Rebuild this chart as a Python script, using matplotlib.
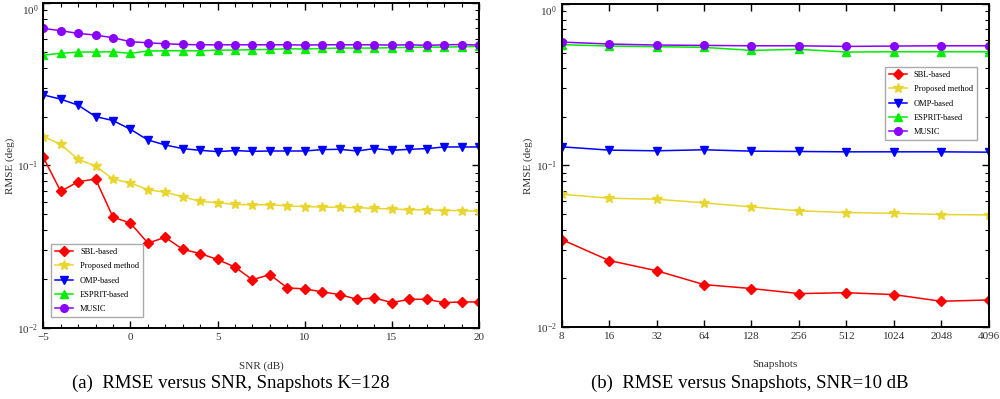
import numpy as np
import matplotlib
matplotlib.use("Agg")
import matplotlib.pyplot as plt
from matplotlib.ticker import LogLocator, MultipleLocator, NullFormatter

plt.rcParams['font.family'] = ['Liberation Serif', 'DejaVu Serif']
plt.rcParams['mathtext.fontset'] = 'stix'

# method names (legend)
methods = ['SBL-based', 'Proposed method', 'OMP-based', 'ESPRIT-based', 'MUSIC']
colors = ['#ff0000', '#e8d530', '#0000ff', '#00ee00', '#8a00ff']
markers = ['D', '*', 'v', '^', 'o']
msizes = [5, 7.5, 5.5, 5.5, 5.5]

# (a) RMSE versus SNR, K=128
snr = list(range(-5, 21))
a_red = [0.1123, 0.0693, 0.0795, 0.0825, 0.0481, 0.0442, 0.0333, 0.0361, 0.0305, 0.0287,
         0.0264, 0.0237, 0.0198, 0.0213, 0.01765, 0.0174, 0.01667, 0.01606, 0.01502, 0.0153,
         0.01433, 0.01502, 0.01502, 0.01433, 0.01446, 0.01446]
a_yellow = [0.1507, 0.135, 0.109, 0.0993, 0.0826, 0.0780, 0.0710, 0.0684, 0.0643, 0.0601,
            0.0590, 0.0576, 0.0573, 0.0573, 0.0564, 0.0559, 0.0555, 0.0552, 0.0550, 0.0544,
            0.0540, 0.0534, 0.0534, 0.0528, 0.0528, 0.0522]
a_blue = [0.272, 0.256, 0.235, 0.200, 0.189, 0.167, 0.1436, 0.1337, 0.127, 0.124,
          0.1217, 0.1235, 0.1222, 0.1228, 0.1228, 0.1228, 0.1252, 0.1258, 0.1228, 0.127,
          0.124, 0.1258, 0.127, 0.130, 0.130, 0.130]
a_green = [0.478, 0.490, 0.499, 0.499, 0.501, 0.490, 0.506, 0.508, 0.508, 0.508,
           0.513, 0.513, 0.516, 0.518, 0.523, 0.521, 0.525, 0.528, 0.528, 0.528,
           0.531, 0.533, 0.535, 0.535, 0.538, 0.541]
a_purple = [0.698, 0.675, 0.650, 0.635, 0.611, 0.578, 0.569, 0.561, 0.556, 0.553,
            0.553, 0.553, 0.553, 0.553, 0.553, 0.551, 0.553, 0.553, 0.553, 0.553,
            0.551, 0.553, 0.549, 0.553, 0.555, 0.551]

# (b) RMSE versus Snapshots, SNR=10 dB
snapshots = ['8', '16', '32', '64', '128', '256', '512', '1024', '2048', '4096']
b_red = [0.0348, 0.0258, 0.0223, 0.0183, 0.0173, 0.0161, 0.0163, 0.01587, 0.01443, 0.01470]
b_yellow = [0.0664, 0.0627, 0.0618, 0.0587, 0.0554, 0.0524, 0.0511, 0.0506, 0.0497, 0.0494]
b_blue = [0.1305, 0.1245, 0.1233, 0.1251, 0.1227, 0.1221, 0.1215, 0.1215, 0.1215, 0.1209]
b_green = [0.560, 0.549, 0.544, 0.539, 0.516, 0.524, 0.504, 0.506, 0.506, 0.506]
b_purple = [0.581, 0.565, 0.557, 0.554, 0.551, 0.551, 0.546, 0.549, 0.551, 0.551]

fig = plt.figure(figsize=(10, 3.99), dpi=100)
ax1 = fig.add_axes([0.0433, 0.178, 0.4357, 0.8145])
ax2 = fig.add_axes([0.5617, 0.1805, 0.427, 0.8095])


def draw(ax, x, series):
    for y, c, m, ms, name in zip(series, colors, markers, msizes, methods):
        ax.plot(x, y, color=c, marker=m, markersize=ms, linewidth=1.1,
                markeredgecolor=c, label=name)
    ax.set_yscale('log')
    ax.set_ylim(1e-2, 1e0)
    ax.yaxis.set_major_locator(LogLocator(base=10, numticks=5))
    ax.yaxis.set_minor_locator(LogLocator(base=10, subs=np.arange(2, 10), numticks=10))
    ax.yaxis.set_minor_formatter(NullFormatter())
    ax.tick_params(which='both', direction='in', top=True, right=True,
                   labelsize=8, labelcolor='#333333')
    ax.tick_params(which='major', length=5, width=1)
    ax.tick_params(which='minor', length=3, width=0.8)
    for s in ax.spines.values():
        s.set_linewidth(1.4)
    ax.set_ylabel('RMSE (deg)', fontsize=8, color='#333333', labelpad=2)


def fix_top_label(ax):
    fig.canvas.draw()
    labels = ax.get_yticklabels()
    for t in labels:
        if t.get_position()[1] >= 0.99:
            t.set_verticalalignment('top')


draw(ax1, snr, [a_red, a_yellow, a_blue, a_green, a_purple])
ax1.set_xlim(-5, 20)
ax1.xaxis.set_major_locator(MultipleLocator(5))
ax1.xaxis.set_minor_locator(MultipleLocator(1))
ax1.set_xlabel('SNR (dB)', fontsize=8, color='#333333', labelpad=14)
ax1.legend(loc='lower left', bbox_to_anchor=(0.008, 0.02), fontsize=6,
           fancybox=False, edgecolor='#aaaaaa', framealpha=1,
           handlelength=2.2, borderpad=0.5, labelspacing=0.75)

xb = np.arange(len(snapshots))
draw(ax2, xb, [b_red, b_yellow, b_blue, b_green, b_purple])
ax2.set_xlim(0, len(snapshots) - 1)
ax2.set_xticks(xb)
ax2.set_xticklabels(snapshots)
ax2.set_xlabel('Snapshots', fontsize=8, color='#333333', labelpad=14)
ax2.legend(loc='upper right', bbox_to_anchor=(0.983, 0.818), fontsize=6,
           fancybox=False, edgecolor='#aaaaaa', framealpha=1,
           handlelength=2.2, borderpad=0.5, labelspacing=0.75)

fix_top_label(ax1)
fix_top_label(ax2)

fig.text(0.231, 0.028, '(a)  RMSE versus SNR, Snapshots K=128', ha='center',
         fontsize=13.5)
fig.text(0.750, 0.028, '(b)  RMSE versus Snapshots, SNR=10 dB', ha='center',
         fontsize=13.5)

fig.savefig('out.png', dpi=100)
